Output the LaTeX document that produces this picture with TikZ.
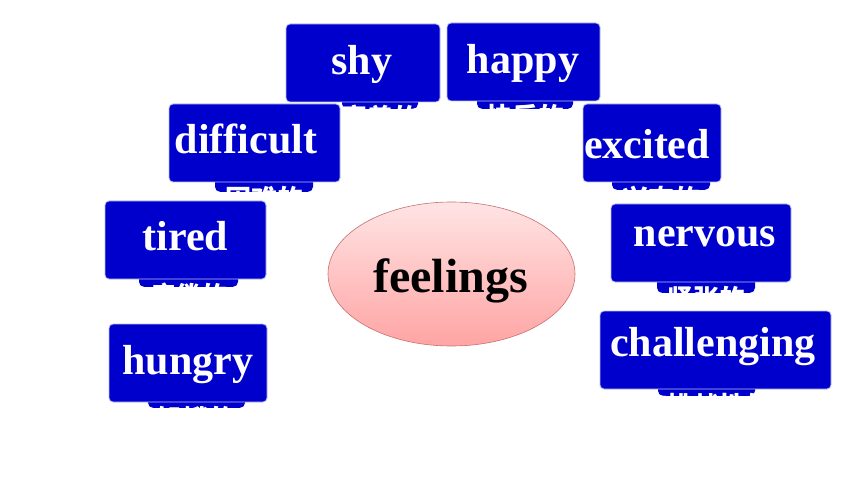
\documentclass[tikz,border=0pt]{standalone}
\usepackage{fontspec}
\setmainfont{Liberation Serif}
\newfontfamily\cjk{Noto Sans CJK SC}
\usetikzlibrary{shapes.geometric}
\definecolor{cardblue}{RGB}{0,0,204}
\definecolor{cardedge}{RGB}{190,190,245}
\definecolor{pinktop}{RGB}{255,228,228}
\definecolor{pinkbot}{RGB}{255,164,164}
\definecolor{pinkedge}{RGB}{200,112,112}
\tikzset{
  wordbox/.style={rectangle, rounded corners=4pt, fill=cardblue, draw=cardedge, line width=0.8pt, inner sep=0pt},
  backbox/.style={rectangle, rounded corners=5pt, fill=cardblue, inner sep=0pt, minimum height=40pt, anchor=south},
  wordtext/.style={text=white, font=\bfseries\fontsize{42}{48}\selectfont, anchor=base, inner sep=0pt},
  hinttext/.style={text=white, font=\cjk\bfseries\fontsize{26}{30}\selectfont, anchor=base, inner sep=0pt},
}
\begin{document}
\begin{tikzpicture}[x=1pt, y=-1pt]
  \useasboundingbox (0,0) rectangle (860,484);

  % hidden cards behind
  \node[backbox, minimum width=76pt] (shyb) at (380,109) {};
  \node[hinttext] (shyh) at (380,128) {害羞的};
  \node[backbox, minimum width=96pt] (happyb) at (525,109) {};
  \node[hinttext] (happyh) at (525,127) {快乐的};
  \node[backbox, minimum width=98pt] (difficultb) at (264,192) {};
  \node[hinttext] (difficulth) at (264,208) {困难的};
  \node[backbox, minimum width=99pt] (tiredb) at (188.5,287) {};
  \node[hinttext] (tiredh) at (188.5,305) {疲倦的};
  \node[backbox, minimum width=97pt] (hungryb) at (196.5,408) {};
  \node[hinttext] (hungryh) at (196.5,428) {饥饿的};
  \node[backbox, minimum width=98pt] (excitedb) at (661,190) {};
  \node[hinttext] (excitedh) at (661,208) {兴奋的};
  \node[backbox, minimum width=98pt] (nervousb) at (706,293) {};
  \node[hinttext] (nervoush) at (706,308) {紧张的};
  \node[backbox, minimum width=97pt] (challengingb) at (706.5,396) {};
  \node[hinttext] (challengingh) at (706.5,415) {有挑战性的};

  % word cards
  \node[wordbox, minimum width=154pt, minimum height=78pt] (shy) at (363,63) {};
  \node[wordtext] (shyt) at (362,75) {shy};
  \node[wordbox, minimum width=153pt, minimum height=78pt] (happy) at (523.5,62) {};
  \node[wordtext] (happyt) at (523,74) {happy};
  \node[wordbox, minimum width=171pt, minimum height=78pt] (difficult) at (254.5,143) {};
  \node[wordtext] (difficultt) at (246,154) {difficult};
  \node[wordbox, minimum width=161pt, minimum height=78pt] (tired) at (185.5,240) {};
  \node[wordtext] (tiredt) at (185.5,250) {tired};
  \node[wordbox, minimum width=158pt, minimum height=78pt] (hungry) at (188,363) {};
  \node[wordtext] (hungryt) at (188,374) {hungry};
  \node[wordbox, minimum width=138pt, minimum height=78pt] (excited) at (652,143) {};
  \node[wordtext] (excitedt) at (647,159) {excited};
  \node[wordbox, minimum width=180pt, minimum height=78pt] (nervous) at (701,243) {};
  \node[wordtext] (nervoust) at (705,247) {nervous};
  \node[wordbox, minimum width=231pt, minimum height=78pt] (challenging) at (715.5,350) {};
  \node[wordtext] (challengingt) at (713,356) {challenging};

  % centre
  \node[ellipse, minimum width=247pt, minimum height=144pt, top color=pinktop, bottom color=pinkbot, draw=pinkedge, line width=0.6pt] (feelings) at (451.5,274) {};
  \node[anchor=base, inner sep=0pt, font=\bfseries\fontsize{48}{56}\selectfont] (feelingst) at (450.5,292) {feelings};

\end{tikzpicture}
\end{document}
